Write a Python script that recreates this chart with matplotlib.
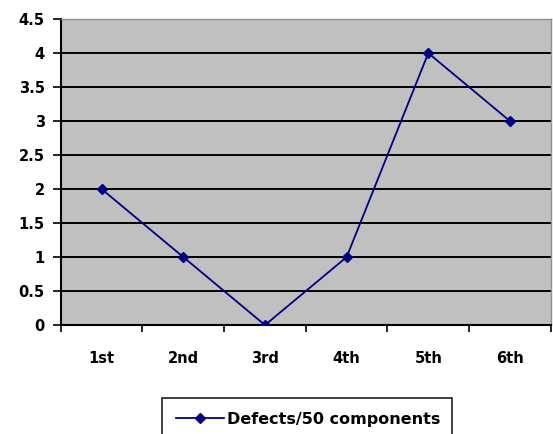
import matplotlib.pyplot as plt
import numpy as np

# dados
categorias = ["1st", "2nd", "3rd", "4th", "5th", "6th"]
defeitos = [2, 1, 0, 1, 4, 3]
yticks = [0, 0.5, 1, 1.5, 2, 2.5, 3, 3.5, 4, 4.5]
ylabels = ["0", "0.5", "1", "1.5", "2", "2.5", "3", "3.5", "4", "4.5"]

fig = plt.figure(figsize=(5.53, 4.34), dpi=100)
ax = fig.add_axes([0.110, 0.251, 0.886, 0.705])
ax.set_facecolor("#c0c0c0")

x = np.arange(len(categorias))
ax.plot(x, defeitos, color="#000080", linewidth=1.3, marker="D", markersize=5.5,
        label="Defects/50 components", zorder=3)

ax.set_xlim(-0.5, len(categorias) - 0.5)
ax.set_ylim(0, 4.5)
ax.set_yticks(yticks)
ax.set_yticklabels(ylabels, fontsize=10.5, fontweight="bold")
for yv in yticks[1:-1]:
    ax.axhline(yv, color="black", linewidth=1.4, zorder=1)

# categorias no centro, ticks entre elas
ax.set_xticks(np.arange(-0.5, len(categorias), 1.0))
ax.set_xticklabels([])
ax.set_xticks(x, minor=True)
ax.set_xticklabels(categorias, minor=True, fontsize=10.5, fontweight="bold")
ax.tick_params(axis="x", which="minor", length=0, pad=19)
ax.tick_params(axis="x", which="major", length=5, width=1.2, direction="out")
ax.tick_params(axis="y", length=5.5, width=1.2, direction="out", pad=6)

for lado in ["left", "bottom"]:
    ax.spines[lado].set_color("black")
    ax.spines[lado].set_linewidth(1.5)
for lado in ["top", "right"]:
    ax.spines[lado].set_color("#909090")
    ax.spines[lado].set_linewidth(1.0)

leg = fig.legend(loc="upper left", bbox_to_anchor=(0.293, -0.2, 0.524, 0.283),
                 mode="expand", borderaxespad=0, frameon=True, fancybox=False,
                 edgecolor="black", prop={"size": 11.5, "weight": "bold"},
                 handlelength=3.0, handletextpad=0.2, borderpad=0.85)
leg.get_frame().set_linewidth(1.3)

plt.savefig("out.png", dpi=100)
